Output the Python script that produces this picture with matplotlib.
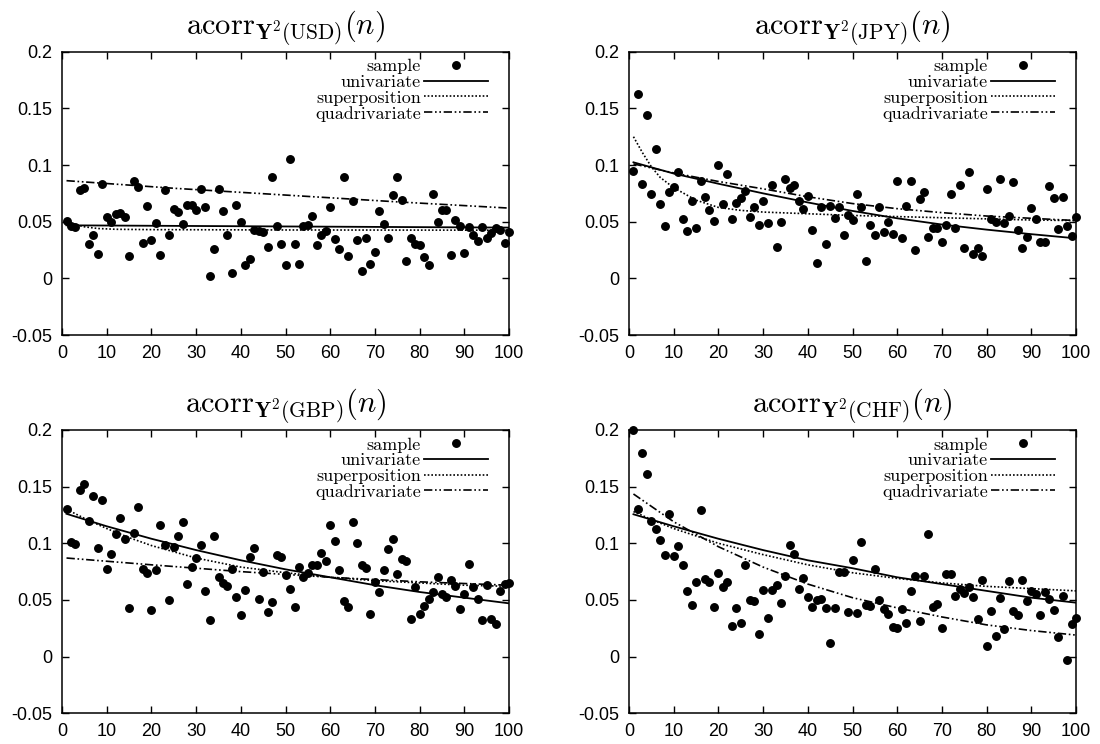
import matplotlib
matplotlib.use('Agg')
import matplotlib.pyplot as plt
import numpy as np

plt.rcParams['mathtext.fontset'] = 'cm'
plt.rcParams['axes.unicode_minus'] = False
plt.rcParams['font.family'] = ['Liberation Sans', 'DejaVu Sans']

lags = np.arange(1, 101)

# sample autocorrelations of squared returns, lag 1..100
usd_sample = [
    0.0506, 0.046, 0.045, 0.078, 0.080, 0.030, 0.0385, 0.0215, 0.083, 0.054,
    0.050, 0.057, 0.058, 0.054, 0.020, 0.086, 0.081, 0.031, 0.0635, 0.034,
    0.049, 0.021, 0.078, 0.038, 0.061, 0.0585, 0.048, 0.065, 0.065, 0.060,
    0.0785, 0.0626, 0.002, 0.0256, 0.0785, 0.059, 0.038, 0.005, 0.065, 0.050,
    0.012, 0.017, 0.043, 0.042, 0.041, 0.028, 0.089, 0.0465, 0.0306, 0.0115,
    0.1056, 0.030, 0.013, 0.046, 0.047, 0.055, 0.029, 0.0385, 0.042, 0.0626,
    0.035, 0.026, 0.089, 0.020, 0.068, 0.034, 0.0065, 0.036, 0.013, 0.023,
    0.059, 0.048, 0.0356, 0.0735, 0.089, 0.069, 0.0156, 0.036, 0.030, 0.029,
    0.019, 0.012, 0.074, 0.050, 0.0606, 0.060, 0.021, 0.0515, 0.0465, 0.022,
    0.0456, 0.038, 0.033, 0.0456, 0.036, 0.040, 0.044, 0.0426, 0.031, 0.041]
jpy_sample = [
    0.0947, 0.163, 0.0835, 0.1444, 0.074, 0.114, 0.0656, 0.0459, 0.0759, 0.081,
    0.0938, 0.0526, 0.042, 0.068, 0.0444, 0.086, 0.072, 0.060, 0.051, 0.1003,
    0.0656, 0.092, 0.0526, 0.0665, 0.071, 0.0774, 0.0538, 0.0626, 0.0468, 0.068,
    0.0488, 0.0826, 0.028, 0.0497, 0.0874, 0.080, 0.082, 0.0685, 0.0615, 0.0724,
    0.043, 0.0132, 0.0632, 0.030, 0.0638, 0.053, 0.0626, 0.038, 0.0559, 0.0515,
    0.074, 0.0626, 0.0153, 0.0468, 0.038, 0.063, 0.041, 0.050, 0.0388, 0.0856,
    0.036, 0.0638, 0.086, 0.025, 0.070, 0.0765, 0.0368, 0.0447, 0.0444, 0.0318,
    0.0468, 0.0747, 0.044, 0.0824, 0.0265, 0.0935, 0.0218, 0.027, 0.020, 0.079,
    0.0526, 0.050, 0.0874, 0.0485, 0.055, 0.085, 0.043, 0.0265, 0.0368, 0.0624,
    0.0526, 0.0324, 0.0324, 0.0815, 0.071, 0.0435, 0.0715, 0.046, 0.0374, 0.054]
gbp_sample = [
    0.130, 0.1009, 0.0994, 0.147, 0.1524, 0.120, 0.142, 0.0959, 0.138, 0.0774,
    0.0906, 0.1085, 0.1226, 0.1035, 0.043, 0.109, 0.132, 0.0776, 0.0735, 0.0415,
    0.076, 0.116, 0.0985, 0.050, 0.097, 0.106, 0.119, 0.064, 0.079, 0.0868,
    0.0988, 0.058, 0.0324, 0.1068, 0.0706, 0.065, 0.062, 0.0774, 0.053, 0.037,
    0.0588, 0.088, 0.096, 0.051, 0.0744, 0.0394, 0.048, 0.090, 0.0876, 0.072,
    0.0594, 0.0435, 0.079, 0.0706, 0.074, 0.081, 0.0806, 0.091, 0.084, 0.116,
    0.102, 0.076, 0.049, 0.044, 0.119, 0.100, 0.081, 0.078, 0.0374, 0.066,
    0.057, 0.0765, 0.095, 0.1035, 0.073, 0.086, 0.0847, 0.033, 0.061, 0.0376,
    0.045, 0.051, 0.057, 0.0706, 0.0553, 0.0524, 0.068, 0.0626, 0.042, 0.0553,
    0.0815, 0.0618, 0.051, 0.032, 0.063, 0.033, 0.0285, 0.0576, 0.0644, 0.065]
chf_sample = [
    0.200, 0.130, 0.180, 0.161, 0.120, 0.1126, 0.1026, 0.0897, 0.1259, 0.0888,
    0.098, 0.0812, 0.058, 0.0459, 0.0659, 0.1297, 0.0685, 0.0659, 0.0441, 0.0738,
    0.061, 0.066, 0.027, 0.0432, 0.030, 0.0809, 0.050, 0.0488, 0.0203, 0.0585,
    0.0338, 0.0588, 0.063, 0.0476, 0.0715, 0.0985, 0.0909, 0.0597, 0.0694, 0.053,
    0.0435, 0.050, 0.0506, 0.043, 0.0118, 0.043, 0.0744, 0.0744, 0.0394, 0.0853,
    0.0388, 0.101, 0.0456, 0.0447, 0.077, 0.0497, 0.0424, 0.0374, 0.0265, 0.025,
    0.0418, 0.030, 0.058, 0.071, 0.031, 0.071, 0.108, 0.0435, 0.0465, 0.025,
    0.073, 0.0732, 0.0535, 0.060, 0.0565, 0.061, 0.0524, 0.0335, 0.0676, 0.0094,
    0.040, 0.018, 0.0515, 0.0244, 0.0665, 0.0406, 0.037, 0.0674, 0.049, 0.058,
    0.0553, 0.0365, 0.0574, 0.051, 0.041, 0.0176, 0.0535, -0.0026, 0.029, 0.0344]

# fitted model curves, sampled at a few lags
usd_uni_n = [1, 50, 100]
usd_uni = [0.0468, 0.0458, 0.0448]
usd_sup_n = [1, 2, 3, 5, 8, 12, 20, 50, 100]
usd_sup = [0.051, 0.049, 0.0475, 0.0455, 0.044, 0.0433, 0.043, 0.0427, 0.0425]
usd_quad_n = [1, 25, 50, 75, 100]
usd_quad = [0.0862, 0.0795, 0.0735, 0.0675, 0.062]

jpy_uni_n = [1, 10, 20, 30, 40, 50, 60, 70, 80, 90, 100]
jpy_uni = [0.1024, 0.0925, 0.0835, 0.075, 0.067, 0.0595, 0.053, 0.0475, 0.043, 0.039, 0.0353]
jpy_sup_n = [1, 3, 5, 7, 10, 15, 20, 25, 30, 40, 50, 60, 70, 80, 90, 100]
jpy_sup = [0.125, 0.111, 0.0985, 0.089, 0.080, 0.069, 0.0626, 0.060, 0.0585, 0.057,
           0.0555, 0.0545, 0.0535, 0.0525, 0.0515, 0.051]
jpy_quad_n = [1, 10, 20, 30, 40, 50, 60, 70, 80, 90, 100]
jpy_quad = [0.101, 0.093, 0.0855, 0.079, 0.072, 0.066, 0.0615, 0.058, 0.055, 0.053, 0.051]

gbp_uni_n = [1, 10, 20, 30, 40, 50, 60, 70, 80, 90, 100]
gbp_uni = [0.126, 0.115, 0.104, 0.094, 0.085, 0.077, 0.070, 0.063, 0.057, 0.052, 0.047]
gbp_sup_n = [1, 5, 10, 15, 20, 30, 40, 50, 60, 70, 80, 90, 100]
gbp_sup = [0.130, 0.122, 0.113, 0.105, 0.098, 0.087, 0.079, 0.074, 0.070, 0.067, 0.065, 0.063, 0.062]
gbp_quad_n = [1, 20, 40, 60, 80, 100]
gbp_quad = [0.087, 0.081, 0.075, 0.070, 0.066, 0.063]

chf_uni_n = [1, 10, 20, 30, 40, 50, 60, 70, 80, 90, 100]
chf_uni = [0.1256, 0.115, 0.104, 0.094, 0.085, 0.078, 0.070, 0.064, 0.058, 0.052, 0.0476]
chf_sup_n = [1, 5, 10, 20, 30, 40, 50, 60, 70, 80, 90, 100]
chf_sup = [0.128, 0.121, 0.113, 0.100, 0.090, 0.081, 0.074, 0.069, 0.065, 0.062, 0.060, 0.058]
chf_quad_n = [1, 10, 20, 30, 40, 50, 60, 70, 80, 90, 100]
chf_quad = [0.1435, 0.119, 0.097, 0.079, 0.064, 0.052, 0.043, 0.035, 0.028, 0.023, 0.019]

currencies = ['USD', 'JPY', 'GBP', 'CHF']
samples = [usd_sample, jpy_sample, gbp_sample, chf_sample]
univariate = [(usd_uni_n, usd_uni), (jpy_uni_n, jpy_uni), (gbp_uni_n, gbp_uni), (chf_uni_n, chf_uni)]
superposition = [(usd_sup_n, usd_sup), (jpy_sup_n, jpy_sup), (gbp_sup_n, gbp_sup), (chf_sup_n, chf_sup)]
quadrivariate = [(usd_quad_n, usd_quad), (jpy_quad_n, jpy_quad), (gbp_quad_n, gbp_quad), (chf_quad_n, chf_quad)]

yticks = [-0.05, 0, 0.05, 0.1, 0.15, 0.2]
ytick_labels = ['-0.05', '0', '0.05', '0.1', '0.15', '0.2']
xticks = [0, 10, 20, 30, 40, 50, 60, 70, 80, 90, 100]

fig = plt.figure(figsize=(11, 7.44), dpi=100)
positions = [
    [0.0564, 0.5497, 0.4064, 0.3808],
    [0.5718, 0.5497, 0.4064, 0.3808],
    [0.0564, 0.0413, 0.4064, 0.3808],
    [0.5718, 0.0413, 0.4064, 0.3808],
]

for i, cur in enumerate(currencies):
    ax = fig.add_axes(positions[i])
    ax.plot(lags, samples[i], 'o', color='black', markersize=5.4,
            linestyle='none', clip_on=False, label='sample', zorder=3)
    ax.plot(*univariate[i], '-', color='black', linewidth=1.3, label='univariate')
    ax.plot(*superposition[i], color='black', linewidth=1.2,
            dashes=(1, 1.2), label='superposition')
    ax.plot(*quadrivariate[i], color='black', linewidth=1.2,
            dashes=(5, 1.6, 1, 1.6, 1, 1.6), label='quadrivariate')

    ax.set_xlim(0, 100)
    ax.set_ylim(-0.05, 0.2)
    ax.set_xticks(xticks)
    ax.set_yticks(yticks)
    ax.set_yticklabels(ytick_labels)
    ax.tick_params(direction='in', length=5, width=1, top=True, right=True,
                   labelsize=13, pad=7)
    for sp in ax.spines.values():
        sp.set_linewidth(1.1)

    ax.set_title(r'$\mathrm{acorr}_{\mathbf{Y}^2(\mathrm{%s})}(n)$' % cur,
                 fontsize=22, pad=13)

    ax.legend(loc='upper right', bbox_to_anchor=(0.952, 0.975),
              markerfirst=False, frameon=False, numpoints=1,
              prop={'family': 'cmr10', 'size': 13}, handlelength=3.5,
              handletextpad=0.2, labelspacing=0.0, borderaxespad=0,
              borderpad=0)

plt.savefig('out.png', dpi=100)
